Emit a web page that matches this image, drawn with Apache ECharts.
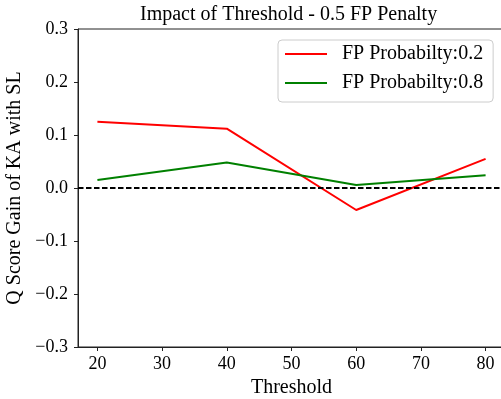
<!DOCTYPE html>
<html>
<head>
<meta charset="utf-8">
<script src="https://cdn.jsdelivr.net/npm/echarts@6/dist/echarts.min.js"></script>
<style>
  html, body { margin: 0; padding: 0; background: #fff; }
  #chart { width: 501px; height: 399px; }
</style>
</head>
<body>
<div id="chart"></div>
<script>
// Threshold values on the x axis
const thresholds = [20, 40, 60, 80];
// Q score gain for each false-positive probability
const gainFp02 = [0.125, 0.112, -0.0415, 0.055];
const gainFp08 = [0.015, 0.048, 0.0055, 0.024];
const seriesNames = ['FP Probabilty:0.2', 'FP Probabilty:0.8'];
const xTicks = [20, 30, 40, 50, 60, 70, 80];
const yTicks = [-0.3, -0.2, -0.1, 0.0, 0.1, 0.2, 0.3];

const serif = 'Liberation Serif';
const pairs = (ys) => thresholds.map((x, i) => [x, ys[i]]);
const fmtY = (v) => {
  const s = Math.abs(v).toFixed(1);
  return v < -1e-9 ? '\u2212' + s : s;
};

const chart = echarts.init(document.getElementById('chart'), null, { renderer: 'canvas' });
chart.setOption({
  animation: false,
  backgroundColor: '#fff',
  title: {
    text: 'Impact of Threshold - 0.5 FP Penalty',
    left: 140,
    top: 5,
    padding: 0,
    textStyle: { fontFamily: serif, fontSize: 20, fontWeight: 'normal', color: '#000' }
  },
  grid: {
    left: 78, top: 29, width: 427, height: 318,
    containLabel: false,
    outerBoundsMode: 'none',
    show: true, borderColor: '#222', borderWidth: 1, backgroundColor: 'transparent'
  },
  legend: {
    orient: 'vertical',
    left: 278, top: 40,
    padding: [4, 10, 9, 7],
    itemGap: 9,
    itemWidth: 42,
    itemHeight: 2,
    icon: 'rect',
    backgroundColor: 'rgba(255,255,255,0.8)',
    borderColor: '#cccccc',
    borderWidth: 1,
    borderRadius: 4,
    data: seriesNames,
    textStyle: { fontFamily: serif, fontSize: 20, lineHeight: 20, color: '#000', padding: [0, 0, 0, 10] }
  },
  xAxis: {
    type: 'value',
    min: 17, max: 83,
    interval: 10,
    name: 'Threshold',
    nameLocation: 'middle',
    nameGap: 29,
    nameTextStyle: { fontFamily: serif, fontSize: 20, color: '#000' },
    axisLine: { show: true, onZero: false, lineStyle: { color: '#222', width: 1 } },
    axisTick: { show: true, length: 4, lineStyle: { color: '#222' }, customValues: xTicks },
    axisLabel: { fontFamily: serif, fontSize: 18, color: '#000', margin: 8, customValues: xTicks },
    splitLine: { show: false }
  },
  yAxis: {
    type: 'value',
    min: -0.3, max: 0.3,
    interval: 0.1,
    name: 'Q Score Gain of KA with SL',
    nameLocation: 'middle',
    nameGap: 43,
    nameTextStyle: { fontFamily: serif, fontSize: 20, color: '#000' },
    axisLine: { show: true, onZero: false, lineStyle: { color: '#222', width: 1 } },
    axisTick: { show: true, length: 4, lineStyle: { color: '#222' }, customValues: yTicks },
    axisLabel: { fontFamily: serif, fontSize: 18, color: '#000', margin: 10, customValues: yTicks, formatter: fmtY },
    splitLine: { show: false }
  },
  series: [
    {
      name: seriesNames[0],
      type: 'line',
      data: pairs(gainFp02),
      symbol: 'none',
      lineStyle: { color: '#ff0000', width: 2 },
      itemStyle: { color: '#ff0000' },
      z: 3,
      markLine: {
        silent: true,
        symbol: 'none',
        label: { show: false },
        lineStyle: { color: '#000', width: 1.8, type: [5.5, 2.5] },
        data: [{ yAxis: 0 }]
      }
    },
    {
      name: seriesNames[1],
      type: 'line',
      data: pairs(gainFp08),
      symbol: 'none',
      lineStyle: { color: '#008000', width: 2 },
      itemStyle: { color: '#008000' },
      z: 3
    }
  ]
});
</script>
</body>
</html>
